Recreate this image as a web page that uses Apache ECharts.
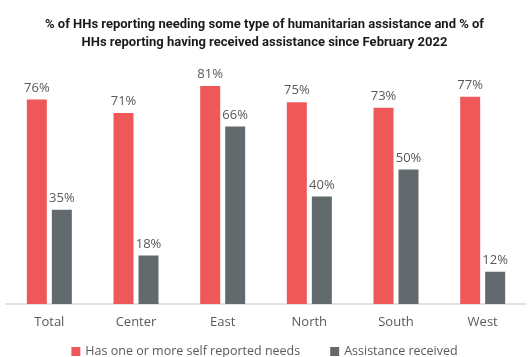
<!DOCTYPE html>
<html>
<head>
<meta charset="utf-8">
<script src="https://cdn.jsdelivr.net/npm/echarts@6/dist/echarts.min.js"></script>
<style>
  html, body { margin: 0; padding: 0; background: #fff; }
  #chart { width: 529px; height: 357px; }
</style>
</head>
<body>
<div id="chart"></div>
<script>
const categories = ['Total', 'Center', 'East', 'North', 'South', 'West'];
const needsValues = [76, 71, 81, 75, 73, 77];
const receivedValues = [35, 18, 66, 40, 50, 12];

const chart = echarts.init(document.getElementById('chart'));

const labelStyle = {
  show: true,
  position: 'top',
  distance: 5,
  formatter: '{c}%',
  color: '#595959',
  fontFamily: 'Open Sans',
  fontSize: 13
};

chart.setOption({
  animation: false,
  title: {
    text: '% of HHs reporting needing some type of humanitarian assistance and % of\nHHs reporting having received assistance since February 2022',
    left: 'center',
    top: 11,
    textStyle: {
      fontFamily: 'Roboto',
      fontWeight: 'bold',
      fontSize: 13,
      lineHeight: 18,
      color: '#1a1a1a'
    }
  },
  grid: {
    left: 6,
    right: 3,
    top: 35,
    bottom: 53
  },
  xAxis: {
    type: 'category',
    data: categories,
    axisLine: { lineStyle: { color: '#d9d9d9', width: 1.5 } },
    axisTick: { show: false },
    axisLabel: {
      color: '#595959',
      fontFamily: 'Open Sans',
      fontSize: 13,
      margin: 12
    }
  },
  yAxis: {
    type: 'value',
    min: 0,
    max: 100,
    show: false,
    splitLine: { show: false }
  },
  legend: {
    top: 340,
    left: 'center',
    itemWidth: 9,
    itemHeight: 9,
    itemGap: 30,
    icon: 'rect',
    textStyle: {
      color: '#595959',
      fontFamily: 'Open Sans',
      fontSize: 12.5
    }
  },
  series: [
    {
      name: 'Has one or more self reported needs',
      type: 'bar',
      data: needsValues,
      barWidth: 20,
      barGap: '25%',
      itemStyle: { color: '#EF5859' },
      label: labelStyle
    },
    {
      name: 'Assistance received',
      type: 'bar',
      data: receivedValues,
      barWidth: 20,
      itemStyle: { color: '#636A6D' },
      label: labelStyle
    }
  ]
});
</script>
</body>
</html>
